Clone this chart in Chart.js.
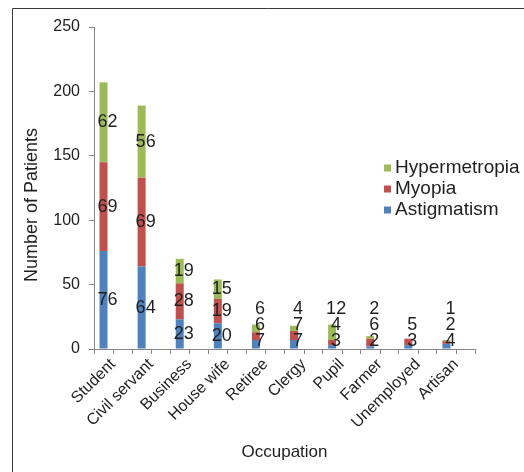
<!DOCTYPE html>
<html>
<head>
<meta charset="utf-8">
<script src="https://cdn.jsdelivr.net/npm/chart.js@4.4.1/dist/chart.umd.min.js"></script>
<style>
  html, body { margin: 0; padding: 0; background: #fff; }
  #wrap { position: relative; width: 524px; height: 472px; }
</style>
</head>
<body>
<div id="wrap"><canvas id="chart" width="524" height="472"></canvas></div>
<script>
// Patients by occupation and type of refractive error
const occupations = ['Student', 'Civil servant', 'Business', 'House wife', 'Retiree',
                     'Clergy', 'Pupil', 'Farmer', 'Unemployed', 'Artisan'];
const astigmatism   = [76, 64, 23, 20, 7, 7, 3, 2, 3, 4];
const myopia        = [69, 69, 28, 19, 6, 7, 4, 6, 5, 2];
const hypermetropia = [62, 56, 19, 15, 6, 4, 12, 2, null, 1];
const yTicks = [0, 50, 100, 150, 200, 250];
const yTitle = 'Number of Patients';

const FONT = '"Liberation Sans", Arial, sans-serif';
const TEXT = '#1f1f1f';
const AXIS = '#868686';

// Segment labels: centred on each segment, kept above the axis and
// nudged upward so labels in a short column do not overlap.
const segmentLabels = {
  id: 'segmentLabels',
  afterDatasetsDraw(chart) {
    const ctx = chart.ctx;
    const bottomLimit = chart.chartArea.bottom - 8;
    const step = 16;
    ctx.save();
    ctx.font = '18px ' + FONT;
    ctx.fillStyle = TEXT;
    ctx.textAlign = 'center';
    ctx.textBaseline = 'middle';
    occupations.forEach((_, i) => {
      let prev = Infinity;
      chart.data.datasets.forEach((ds, d) => {
        if (!ds.showValues) return;
        const v = ds.data[i];
        if (v === null || v === undefined) return;
        const el = chart.getDatasetMeta(d).data[i];
        let y = Math.min((el.y + el.base) / 2, bottomLimit);
        y = Math.min(y, prev - step);
        ctx.fillText(String(v), el.x + 4, y);
        prev = y;
      });
    });
    ctx.restore();
  }
};

// Extra tick marks halfway between category boundaries, the value-axis
// title and the frame.
const decorations = {
  id: 'decorations',
  afterDraw(chart) {
    const ctx = chart.ctx;
    const a = chart.chartArea;
    const slot = (a.right - a.left) / (occupations.length * 2);
    ctx.save();
    ctx.strokeStyle = AXIS;
    ctx.lineWidth = 1;
    ctx.beginPath();
    for (let k = 1; k < occupations.length * 2; k += 2) {
      const x = Math.round(a.left + k * slot) + 0.5;
      ctx.moveTo(x, a.bottom);
      ctx.lineTo(x, a.bottom + 5);
    }
    ctx.stroke();

    ctx.save();
    ctx.translate(32, 205);
    ctx.rotate(-Math.PI / 2);
    ctx.font = '18px ' + FONT;
    ctx.fillStyle = TEXT;
    ctx.textAlign = 'center';
    ctx.textBaseline = 'middle';
    ctx.fillText(yTitle, 0, 0);
    ctx.restore();

    // outer frame
    ctx.strokeStyle = '#3a3a3a';
    ctx.beginPath();
    ctx.moveTo(12.5, chart.height);
    ctx.lineTo(12.5, 8.5);
    ctx.lineTo(chart.width, 8.5);
    ctx.stroke();
    ctx.restore();
  }
};

// Legend listed top-down from the upper segment to the lower one.
const sideLegend = {
  id: 'sideLegend',
  afterDraw(chart, args, opts) {
    const ctx = chart.ctx;
    const items = chart.data.datasets.filter(ds => ds.showValues).slice().reverse();
    ctx.save();
    ctx.font = '19px ' + FONT;
    ctx.textBaseline = 'middle';
    ctx.textAlign = 'left';
    items.forEach((ds, k) => {
      const y = opts.y + k * opts.gap;
      ctx.fillStyle = ds.backgroundColor;
      ctx.fillRect(opts.x, y - 3.5, 7, 7);
      ctx.fillStyle = TEXT;
      ctx.fillText(ds.label, opts.x + 11, y);
    });
    ctx.restore();
  }
};

const datasets = [
  { label: 'Astigmatism', data: astigmatism, backgroundColor: '#4F81BD', stack: 'cases', showValues: true },
  { label: 'Myopia', data: myopia, backgroundColor: '#C0504D', stack: 'cases', showValues: true },
  { label: 'Hypermetropia', data: hypermetropia, backgroundColor: '#9BBB59', stack: 'cases', showValues: true },
  // empty second stack: keeps each column in the left half of its category
  { label: 'blank', data: occupations.map(() => null), backgroundColor: 'rgba(0,0,0,0)', stack: 'blank', showValues: false }
];

new Chart(document.getElementById('chart'), {
  type: 'bar',
  data: { labels: occupations, datasets },
  options: {
    responsive: false,
    animation: false,
    layout: { padding: { top: 27, right: 49, bottom: 0, left: 0 } },
    datasets: { bar: { categoryPercentage: 1, barPercentage: 0.42, grouped: true } },
    plugins: {
      legend: { display: false },
      tooltip: { enabled: false },
      sideLegend: { x: 384, y: 168, gap: 21 }
    },
    scales: {
      x: {
        stacked: true,
        grid: { display: true, drawOnChartArea: false, tickLength: 5, color: AXIS, offset: true },
        border: { display: true, color: AXIS },
        ticks: { font: { family: FONT, size: 16 }, color: TEXT, minRotation: 45, maxRotation: 45, padding: 1 },
        title: { display: true, text: 'Occupation', font: { family: FONT, size: 17 }, color: TEXT,
                 padding: { top: 0, bottom: 9 } },
        afterFit(scale) { scale.height = 472 - 349; }
      },
      y: {
        stacked: true,
        min: 0, max: 250,
        afterBuildTicks(scale) { scale.ticks = yTicks.map(v => ({ value: v })); },
        grid: { display: true, drawOnChartArea: false, tickLength: 5, color: AXIS },
        border: { display: true, color: AXIS },
        ticks: { font: { family: FONT, size: 16 }, color: TEXT, padding: 9 },
        title: { display: false },
        afterFit(scale) { scale.width = 94; }
      }
    }
  },
  plugins: [segmentLabels, decorations, sideLegend]
});
</script>
</body>
</html>
